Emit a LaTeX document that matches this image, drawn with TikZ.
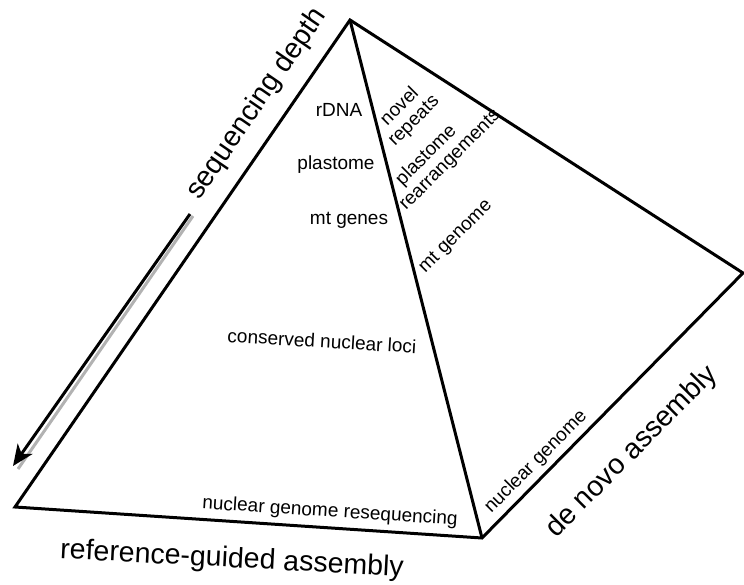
\documentclass[tikz,border=0pt]{standalone}
\usepackage{fontspec}
\setmainfont{Liberation Sans}
\usetikzlibrary{arrows.meta}

\begin{document}
\begin{tikzpicture}[
  x=1pt, y=-1pt,
  edge/.style={draw=black,line width=3pt,line join=miter},
  axislab/.style={font=\fontsize{28.5}{32}\selectfont,inner sep=0pt},
  item/.style={font=\fontsize{19}{20}\selectfont,inner sep=0pt},
  shade/.style={draw=black!30,line width=3pt},
]
  \useasboundingbox (0,0) rectangle (744,585);
  % corners of the pyramid
  \coordinate (top) at (350,20);
  \coordinate (left) at (15,507);
  \coordinate (front) at (482,538);
  \coordinate (right) at (743,273);
  \draw[edge] (top) -- (left) -- (front) -- (right) -- cycle;
  \draw[edge] (top) -- (front);
  % depth arrow
  \coordinate (d0) at (190,214);
  \coordinate (d1) at (13,466);
  \draw[shade] ([shift={(3,2)}]d0) -- ([shift={(5,3)}]d1);
  \draw[-{Stealth[length=21pt,width=18pt,inset=6pt]},line width=3pt] (d0) -- (d1);
  \node[axislab,rotate=55.5] (depth) at (257,104) {sequencing depth};
  \node[axislab,rotate=-3] (refg) at (232,560) {reference-guided assembly};
  \node[axislab,rotate=45] (denovo) at (632,452) {de novo assembly};
  % left face
  \node[item] (rdna) at (339,110) {rDNA};
  \node[item] (plast) at (336,165) {plastome};
  \node[item] (mtg) at (349,220) {mt genes};
  \node[item,rotate=-3.4] (cons) at (322,341) {conserved nuclear loci};
  \node[item,rotate=-3.7] (reseq) at (330,512) {nuclear genome resequencing};
  % right face
  \node[item,rotate=45,align=center] (novel) at (407,114) {novel\\repeats};
  \node[item,rotate=45,align=left] (rearr) at (443,153) {\hspace*{15pt}plastome\\rearrangements};
  \node[item,rotate=45] (mtgen) at (456,237) {mt genome};
  \node[item,rotate=45] (nucg) at (536,462) {nuclear genome};
\end{tikzpicture}
\end{document}
